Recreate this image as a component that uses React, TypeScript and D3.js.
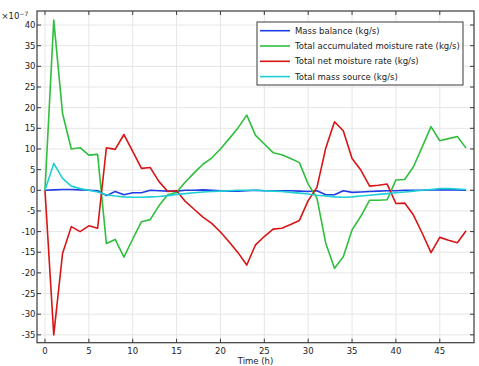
import React from "react";
import * as d3 from "d3";

const timeH = d3.range(0, 49);
const massBalance = [0, 0.1, 0.2, 0.2, 0.1, 0.0, -0.1, -1.3, -0.3, -1.1, -0.6, -0.6, 0.0, -0.1, -0.2, -0.2, 0.0, 0.0, 0.1, 0.0, -0.1, -0.2, -0.2, -0.1, 0.0, -0.1, -0.1, -0.1, -0.1, -0.2, -0.3, -0.1, -1.1, -1.1, -0.1, -0.5, -0.4, -0.3, -0.2, -0.1, -0.1, 0.0, 0.0, 0.0, 0.1, 0.1, 0.1, 0.1, 0.0];
const accumulated = [0, 41.2, 18.6, 10.0, 10.3, 8.5, 8.7, -12.9, -11.9, -16.2, -11.8, -7.6, -7.1, -3.7, -1.1, -0.5, 2.0, 4.2, 6.3, 7.8, 10.0, 12.5, 15.1, 18.2, 13.3, 11.2, 9.1, 8.6, 7.7, 6.7, 1.5, -1.9, -12.8, -18.9, -16.1, -9.6, -6.3, -2.4, -2.4, -2.3, 2.5, 2.6, 5.7, 10.5, 15.4, 12.0, 12.5, 13.0, 10.2];
const netMoisture = [0, -35, -15.3, -8.8, -10.0, -8.6, -9.2, 10.3, 9.9, 13.5, 9.4, 5.3, 5.5, 2.1, -0.3, -0.1, -2.7, -4.6, -6.5, -8.0, -10.1, -12.5, -15.1, -18.1, -13.2, -11.2, -9.4, -9.2, -8.3, -7.3, -2.5, 0.7, 10.2, 16.6, 14.4, 7.7, 4.9, 1.0, 1.2, 1.5, -3.2, -3.1, -6.0, -10.4, -15.1, -11.4, -12.1, -12.7, -9.8];
const massSource = [0, 6.5, 2.9, 1.0, 0.4, 0.0, -0.4, -1.1, -1.4, -1.6, -1.7, -1.7, -1.6, -1.5, -1.3, -1.0, -0.8, -0.6, -0.4, -0.3, -0.2, -0.1, 0.0, 0.0, 0.0, -0.1, -0.2, -0.3, -0.5, -0.7, -0.9, -1.2, -1.4, -1.6, -1.7, -1.6, -1.4, -1.2, -1.0, -0.8, -0.6, -0.4, -0.2, 0.0, 0.2, 0.4, 0.4, 0.3, 0.2];

const xTicks = [0, 5, 10, 15, 20, 25, 30, 35, 40, 45];
const yTicks = [-35, -30, -25, -20, -15, -10, -5, 0, 5, 10, 15, 20, 25, 30, 35, 40];

const seriesNames = [
  "Mass balance (kg/s)",
  "Total accumulated moisture rate (kg/s)",
  "Total net moisture rate (kg/s)",
  "Total mass source (kg/s)",
];
const seriesColors = ["#1f3fe6", "#2fbf3c", "#d81414", "#1ed0d6"];
const seriesData = [massBalance, accumulated, netMoisture, massSource];

const W = 479;
const H = 366;
const L = 37, R = 474, T = 11, B = 342.7;

export default function App() {
  const x = d3.scaleLinear().domain([-0.91, 48.9]).range([L, R]);
  const y = d3.scaleLinear().domain([-36.9, 43.4]).range([B, T]);
  const line = d3
    .line<number>()
    .x((_, i) => x(timeH[i]))
    .y((d) => y(d));
  const font = "DejaVu Sans, sans-serif";
  const fs = 8.5;
  const frame = "#3a3a3a";
  const legX = 257, legY = 22, legW = 206, legH = 63;
  return (
    <svg
      width={W}
      height={H}
      style={{ position: "absolute", left: 0, top: 0, background: "#fff" }}
      fontFamily={font}
    >
      <rect x={0} y={0} width={W} height={H} fill="#fff" />
      {xTicks.map((t) => (
        <line key={"gx" + t} x1={x(t)} x2={x(t)} y1={T} y2={B} stroke="#e6e6e6" strokeWidth={1} />
      ))}
      {yTicks.map((t) => (
        <line key={"gy" + t} x1={L} x2={R} y1={y(t)} y2={y(t)} stroke="#e6e6e6" strokeWidth={1} />
      ))}
      {seriesData.map((d, i) => (
        <path
          key={"s" + i}
          d={line(d) || ""}
          fill="none"
          stroke={seriesColors[i]}
          strokeWidth={1.6}
          strokeLinejoin="round"
        />
      ))}
      <rect x={L} y={T} width={R - L} height={B - T} fill="none" stroke={frame} strokeWidth={1.2} />
      {xTicks.map((t) => (
        <g key={"tx" + t}>
          <line x1={x(t)} x2={x(t)} y1={B} y2={B - 4} stroke={frame} strokeWidth={1} />
          <line x1={x(t)} x2={x(t)} y1={T} y2={T + 4} stroke={frame} strokeWidth={1} />
          <text x={x(t)} y={354} fontSize={fs} textAnchor="middle" fill="#222">
            {t}
          </text>
        </g>
      ))}
      {yTicks.map((t) => (
        <g key={"ty" + t}>
          <line x1={L} x2={L + 4} y1={y(t)} y2={y(t)} stroke={frame} strokeWidth={1} />
          <line x1={R} x2={R - 4} y1={y(t)} y2={y(t)} stroke={frame} strokeWidth={1} />
          <text x={35.5} y={y(t) + 3} fontSize={fs} textAnchor="end" fill="#222">
            {t}
          </text>
        </g>
      ))}
      <text x={1.5} y={18.5} fontSize={fs} fill="#222">
        ×10<tspan dy={-3} fontSize={6}>−7</tspan>
      </text>
      <text x={(L + R) / 2} y={363.5} fontSize={fs} textAnchor="middle" fill="#222">
        Time (h)
      </text>
      <rect x={legX} y={legY} width={legW} height={legH} fill="#fff" stroke={frame} strokeWidth={1} />
      {seriesNames.map((n, i) => {
        const ly = 30.7 + i * 15.3;
        return (
          <g key={"lg" + i}>
            <line x1={260} x2={290} y1={ly} y2={ly} stroke={seriesColors[i]} strokeWidth={1.6} />
            <text x={295} y={ly + 3} fontSize={fs} fill="#222">
              {n}
            </text>
          </g>
        );
      })}
    </svg>
  );
}
